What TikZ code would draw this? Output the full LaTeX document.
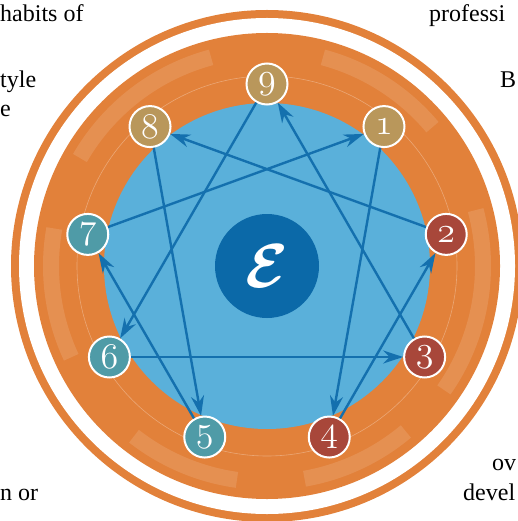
\documentclass[tikz,border=0pt]{standalone}
\usepackage{graphicx}
\usepackage{fontspec}
\setmainfont{Liberation Serif}
\usetikzlibrary{arrows.meta}

\definecolor{ringorange}{HTML}{E2813A}
\definecolor{diskblue}{HTML}{5AB0DA}
\definecolor{coreblue}{HTML}{0B69A8}
\definecolor{lineblue}{HTML}{1470AE}
\definecolor{typegold}{HTML}{B9975B}
\definecolor{typered}{HTML}{A8473A}
\definecolor{typeteal}{HTML}{4F9BA7}

\begin{document}
\begin{tikzpicture}[x=1pt, y=-1pt, >={Stealth[length=20pt,width=13pt]},
  num/.style={circle, draw=white, line width=2pt, minimum size=41pt, inner sep=0pt,
    text=white, font=\Huge},
  link/.style={->, draw=lineblue, line width=2.4pt},
  streak/.style={white, opacity=0.12, line width=16pt},
  page/.style={anchor=base west, inner sep=0pt, font=\fontsize{24}{24}\selectfont}]
  \useasboundingbox (0,0) rectangle (517,521);
  \coordinate (c) at (267,266);

  % rings
  \fill[ringorange] (c) circle (256pt);
  \fill[white] (c) circle (248pt);
  \fill[ringorange] (c) circle (233pt);
  \foreach \a/\b in {105/150, 40/75, 170/205, 232/262, 280/310, -35/15}
    \draw[streak] ([shift={(\a:216pt)}]c) arc[start angle=\a, end angle=\b, radius=216pt];
  \draw[white, opacity=0.3, line width=0.6pt] (c) circle (190pt);
  \fill[diskblue] (c) circle (163pt);

  % centre
  \node[circle, fill=coreblue, minimum size=104pt, inner sep=0pt, text=white] (core) at (c)
    {\scalebox{2.5}{\Huge\boldmath$\mathcal{E}$}};

  % type circles
  \foreach \k/\col in {1/typegold, 2/typered, 3/typered, 4/typered, 5/typeteal,
                       6/typeteal, 7/typeteal, 8/typegold, 9/typegold}
    \node[num, fill=\col] (n\k) at ([shift={(90-40*\k:182pt)}]c)
      {\scalebox{1.45}{$\mathnormal{\k}$}};

  % lines
  \draw[link] (n1) -- (n4);
  \draw[link] (n4) -- (n2);
  \draw[link] (n2) -- (n8);
  \draw[link] (n8) -- (n5);
  \draw[link] (n5) -- (n7);
  \draw[link] (n7) -- (n1);
  \draw[link] (n9) -- (n6);
  \draw[link] (n6) -- (n3);
  \draw[link] (n3) -- (n9);

  % page text around the figure
  \node[page] (t1) at (0,22) {habits of};
  \node[page] (t2) at (0,88) {tyle};
  \node[page] (t3) at (0,117) {e};
  \node[page] (t4) at (429,22) {professi};
  \node[page] (t5) at (500,88) {B};
  \node[page] (t6) at (0,500) {n or};
  \node[page] (t7) at (492,470) {ov};
  \node[page] (t8) at (463,500) {devel};
\end{tikzpicture}
\end{document}
